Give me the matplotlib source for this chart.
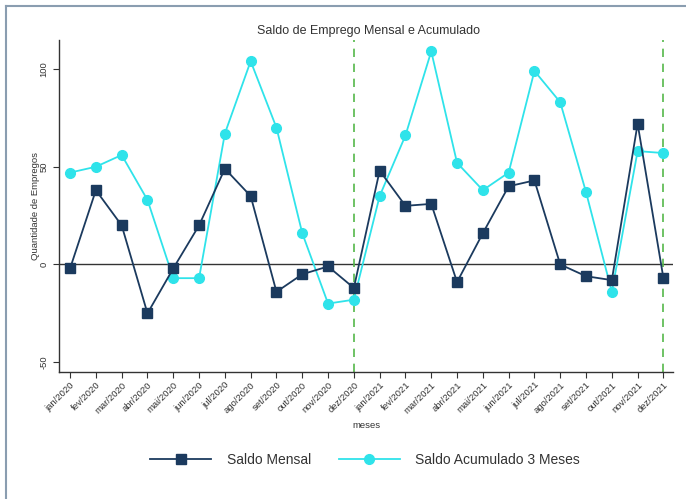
import matplotlib
matplotlib.use("Agg")
import matplotlib.pyplot as plt
from matplotlib.lines import Line2D

plt.rcParams['font.family'] = ['Liberation Sans', 'DejaVu Sans']

meses = ["jan/2020", "fev/2020", "mar/2020", "abr/2020", "mai/2020", "jun/2020",
         "jul/2020", "ago/2020", "set/2020", "out/2020", "nov/2020", "dez/2020",
         "jan/2021", "fev/2021", "mar/2021", "abr/2021", "mai/2021", "jun/2021",
         "jul/2021", "ago/2021", "set/2021", "out/2021", "nov/2021", "dez/2021"]
saldo_mensal = [-2, 38, 20, -25, -2, 20, 49, 35, -14, -5, -1, -12,
                48, 30, 31, -9, 16, 40, 43, 0, -6, -8, 72, -7]
saldo_acum3 = [47, 50, 56, 33, -7, -7, 67, 104, 70, 16, -20, -18,
               35, 66, 109, 52, 38, 47, 99, 83, 37, -14, 58, 57]
linhas_dez = ["dez/2020", "dez/2021"]

navy = "#1b3a5e"
cyan = "#2fe3ea"
green = "#55b84a"

fig = plt.figure(figsize=(6.86, 4.99), dpi=100)
ax = fig.add_axes([0.086, 0.2545, 0.895, 0.666])

x = list(range(len(meses)))
ax.axhline(0, color="#333333", lw=1.0, zorder=1)
for m in linhas_dez:
    ax.axvline(meses.index(m), color=green, lw=1.2, ls=(0, (5, 4)), zorder=1)

ax.plot(x, saldo_mensal, color=navy, lw=1.3, marker="s", ms=7, zorder=3,
        label="Saldo Mensal")
ax.plot(x, saldo_acum3, color=cyan, lw=1.3, marker="o", ms=7, zorder=2,
        label="Saldo Acumulado 3 Meses")

ax.set_xlim(-0.43, 23.37)
ax.set_ylim(-55, 115)
ax.set_xticks(x)
ax.set_xticklabels(meses, rotation=45, ha="right", rotation_mode="anchor",
                   fontsize=6.8, color="#333333")
ax.set_yticks([-50, 0, 50, 100])
ax.set_yticklabels(["-50", "0", "50", "100"], rotation=90, va="center",
                   fontsize=6.8, color="#333333")
ax.tick_params(axis="both", length=4, width=0.8, color="#333333")
ax.tick_params(axis="x", pad=2)
for s in ["top", "right"]:
    ax.spines[s].set_visible(False)
for s in ["left", "bottom"]:
    ax.spines[s].set_color("#333333")
    ax.spines[s].set_linewidth(1.0)

ax.set_xlabel("meses", fontsize=6.8, color="#333333", labelpad=4)
ax.set_ylabel("Quantidade de Empregos", fontsize=6.8, color="#333333", labelpad=0)
fig.text(0.537, 0.937, "Saldo de Emprego Mensal e Acumulado", ha="center",
         va="center", fontsize=9, color="#333333")

handles = [Line2D([], [], color=navy, lw=1.3, marker="s", ms=7),
           Line2D([], [], color=cyan, lw=1.3, marker="o", ms=7)]
fig.legend(handles, ["Saldo Mensal", "Saldo Acumulado 3 Meses"], loc="center",
           bbox_to_anchor=(0.532, 0.078), ncol=2, frameon=False, fontsize=10,
           handlelength=4.4, columnspacing=2.0, handletextpad=1.1, labelcolor="#333333")

fig.add_artist(Line2D([0.009, 0.009], [0.0, 0.988], transform=fig.transFigure,
                      color="#8a9db0", lw=1.5))
fig.add_artist(Line2D([0.009, 1.0], [0.988, 0.988], transform=fig.transFigure,
                      color="#8a9db0", lw=1.5))

fig.savefig("out.png", dpi=100, facecolor="white")
